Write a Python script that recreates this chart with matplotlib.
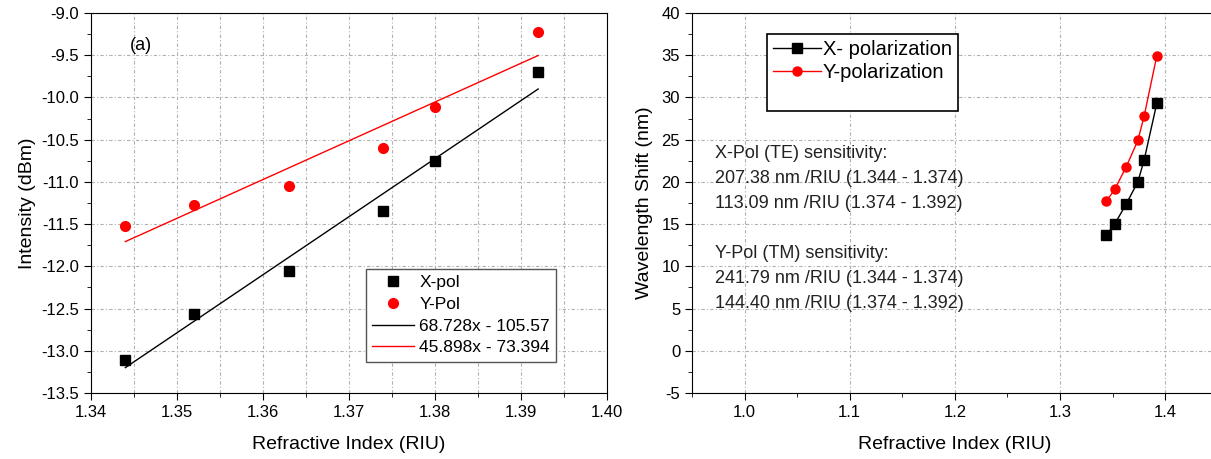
import numpy as np
import matplotlib
matplotlib.use("Agg")
import matplotlib.pyplot as plt
from matplotlib.ticker import MultipleLocator
from matplotlib.lines import Line2D

plt.rcParams['font.family'] = ['Liberation Sans', 'DejaVu Sans']
plt.rcParams['axes.unicode_minus'] = False

# ---- data (a) intensity vs refractive index
ri = [1.344, 1.352, 1.363, 1.374, 1.380, 1.392]
x_pol_int = [-13.11, -12.56, -12.05, -11.35, -10.75, -9.70]
y_pol_int = [-11.52, -11.27, -11.05, -10.60, -10.11, -9.22]
fit_x = (68.728, -105.57)
fit_y = (45.898, -73.394)
fit_labels = ["68.728x - 105.57", "45.898x - 73.394"]

# ---- data (b) wavelength shift vs refractive index
x_pol_shift = [13.7, 15.0, 17.4, 20.0, 22.6, 29.3]
y_pol_shift = [17.7, 19.1, 21.8, 24.9, 27.8, 34.9]
notes = ["X-Pol (TE) sensitivity:",
         "207.38 nm /RIU (1.344 - 1.374)",
         "113.09 nm /RIU (1.374 - 1.392)",
         "",
         "Y-Pol (TM) sensitivity:",
         "241.79 nm /RIU (1.344 - 1.374)",
         "144.40 nm /RIU (1.374 - 1.392)"]

fig = plt.figure(figsize=(12.11, 4.59), dpi=100)
grid_kw = dict(color='#b0b0b0', linestyle=(0, (3, 2, 1, 2)), linewidth=0.8)

# ---------- left panel
ax1 = fig.add_axes([0.0751, 0.1438, 0.4261, 0.828])
xs = np.array([ri[0], ri[-1]])
ax1.plot(xs, fit_x[0] * xs + fit_x[1], color='black', lw=1.0, label=fit_labels[0], zorder=2)
ax1.plot(xs, fit_y[0] * xs + fit_y[1], color='red', lw=1.0, label=fit_labels[1], zorder=2)
ax1.plot(ri, x_pol_int, 's', color='black', ms=6.5, label='X-pol', zorder=3)
ax1.plot(ri, y_pol_int, 'o', color='red', ms=7, label='Y-Pol', zorder=3)
ax1.set_xlim(1.34, 1.40)
ax1.set_ylim(-13.5, -9.0)
ax1.xaxis.set_major_locator(MultipleLocator(0.01))
ax1.xaxis.set_minor_locator(MultipleLocator(0.005))
ax1.yaxis.set_major_locator(MultipleLocator(0.5))
ax1.yaxis.set_minor_locator(MultipleLocator(0.25))
ax1.xaxis.set_major_formatter(plt.FormatStrFormatter('%.2f'))
ax1.yaxis.set_major_formatter(plt.FormatStrFormatter('%.1f'))
ax1.grid(True, which='major', **grid_kw)
ax1.grid(True, which='minor', axis='x', **grid_kw)
ax1.set_axisbelow(True)
ax1.tick_params(which='both', direction='out', labelsize=12)
ax1.tick_params(which='major', length=5)
ax1.tick_params(which='minor', length=3)
ax1.set_xlabel("Refractive Index (RIU)", fontsize=14, labelpad=12)
ax1.set_ylabel("Intensity (dBm)", fontsize=14, labelpad=4)
ax1.text(1.3445, -9.44, "(a)", fontsize=13)
h, l = ax1.get_legend_handles_labels()
order = [2, 3, 0, 1]
leg1 = ax1.legend([h[i] for i in order], [l[i] for i in order], loc='lower right',
                  bbox_to_anchor=(0.918, 0.06), fontsize=12.5, fancybox=False,
                  edgecolor='#555555', framealpha=1, handlelength=2.4,
                  borderpad=0.35, labelspacing=0.38, handletextpad=0.3)
leg1.get_frame().set_linewidth(1.0)

# ---------- right panel
ax2 = fig.add_axes([0.5714, 0.1438, 0.4342, 0.828])
ax2.plot(ri, x_pol_shift, '-s', color='black', ms=7, lw=1.0, label='X- polarization')
ax2.plot(ri, y_pol_shift, '-o', color='red', mfc='red', ms=6.5, lw=1.0,
         label='Y-polarization')
ax2.set_xlim(0.95, 1.45)
ax2.set_ylim(-5, 40)
ax2.xaxis.set_major_locator(MultipleLocator(0.1))
ax2.xaxis.set_minor_locator(MultipleLocator(0.05))
ax2.yaxis.set_major_locator(MultipleLocator(5))
ax2.yaxis.set_minor_locator(MultipleLocator(2.5))
ax2.xaxis.set_major_formatter(plt.FormatStrFormatter('%.1f'))
ax2.grid(True, which='major', **grid_kw)
ax2.set_axisbelow(True)
ax2.tick_params(which='both', direction='out', labelsize=12)
ax2.tick_params(which='major', length=5)
ax2.tick_params(which='minor', length=3)
ax2.set_xlabel("Refractive Index (RIU)", fontsize=14, labelpad=12)
ax2.set_ylabel("Wavelength Shift (nm)", fontsize=14, labelpad=6)
for i, s in enumerate(notes):
    if s:
        ax2.text(0.972, 23.3 - i * 2.95, s, fontsize=13, va='center', color='#222222')
blank = Line2D([], [], color='none')
leg2 = ax2.legend(handles=[ax2.lines[0], ax2.lines[1], blank],
                  labels=['X- polarization', 'Y-polarization', ''],
                  loc='upper left', bbox_to_anchor=(0.142, 0.945), fontsize=14.5,
                  fancybox=False, edgecolor='black', framealpha=1,
                  handlelength=2.4, borderpad=0.3, labelspacing=0.2,
                  handletextpad=0.1, borderaxespad=0)
leg2.get_frame().set_linewidth(1.2)

fig.savefig("out.png", dpi=100)
